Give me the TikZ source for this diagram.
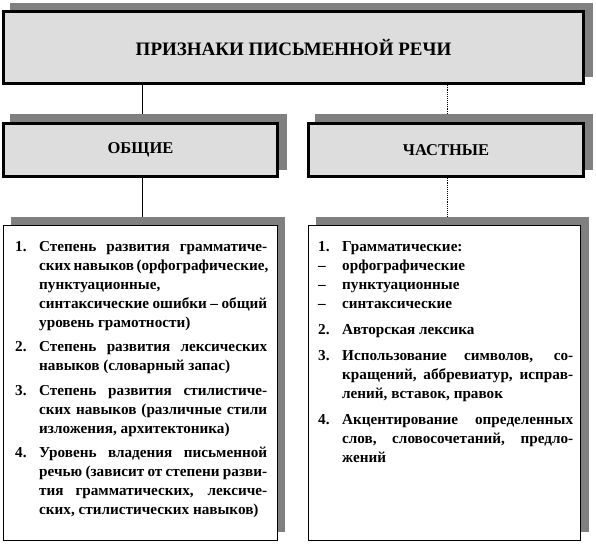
\documentclass[tikz,border=0pt]{standalone}
\usepackage{fontspec}
\setmainfont{Liberation Serif}
\definecolor{shadowgray}{HTML}{808080}
\definecolor{headgray}{HTML}{DDDDDD}
\newcommand{\jline}[5]{\node[txt] (#1) at (#2,#3) {\makebox[#4pt][s]{#5}};}
\newcommand{\pline}[4]{\node[txt] (#1) at (#2,#3) {#4};}
\begin{document}
\begin{tikzpicture}[x=1pt,y=-1pt,
  shadowbox/.style={fill=shadowgray, draw=none},
  headbox/.style={fill=headgray, draw=black, line width=2.5pt, inner sep=0pt,
    font=\fontsize{16.5}{18}\selectfont\bfseries},
  titlebox/.style={headbox, font=\fontsize{19}{21}\selectfont\bfseries},
  listbox/.style={fill=white, draw=black, line width=1pt, inner sep=0pt},
  txt/.style={anchor=base west, inner sep=0pt, font=\fontsize{15.2}{17}\selectfont\bfseries},
  conn/.style={draw=black, line width=1pt},
  dconn/.style={draw=black, line width=0.9pt, densely dotted}]
\path[use as bounding box] (0,0) rectangle (596,543);

% shadows
\path[shadowbox] (10,3) rectangle (593,77);
\path[shadowbox] (10,114) rectangle (287,170);
\path[shadowbox] (315,114) rectangle (593,170);
\path[shadowbox] (11,217) rectangle (285,532);
\path[shadowbox] (316,217) rectangle (589,532);
\coordinate (gshtop) at (142,114);
\coordinate (pshtop) at (447,114);
\coordinate (gcshtop) at (142,217);
\coordinate (pcshtop) at (447,217);

% boxes
\node[titlebox, minimum width=580pt, minimum height=72pt] (title) at (293.5,47.5) {ПРИЗНАКИ ПИСЬМЕННОЙ РЕЧИ};
\node[headbox, minimum width=274pt, minimum height=53pt] (gen) at (140.5,150) {ОБЩИЕ};
\node[headbox, minimum width=275pt, minimum height=53pt] (part) at (446,150) {ЧАСТНЫЕ};
\node[listbox, minimum width=274pt, minimum height=315pt] (genlist) at (140.5,383) {};
\node[listbox, minimum width=272pt, minimum height=315pt] (partlist) at (444.5,383) {};

% connectors
\draw[conn] (title.south -| gshtop) -- (gshtop);
\draw[dconn] (title.south -| pshtop) -- (pshtop);
\draw[conn] (gen.south -| gcshtop) -- (gcshtop);
\draw[dconn] (part.south -| pcshtop) -- (pcshtop);

% left list
\pline{gn1}{15}{251}{1.}
\jline{g1a}{39}{251}{228}{Степень развития граммати­че-}
\jline{g1b}{39}{270}{228}{ских навыков (орфографические,}
\pline{g1c}{39}{289}{пунктуационные,}
\jline{g1d}{39}{308}{228}{синтаксические ошибки – общий}
\pline{g1e}{39}{327}{уровень грамотности)}
\pline{gn2}{15}{351}{2.}
\jline{g2a}{39}{351}{228}{Степень развития лексических}
\pline{g2b}{39}{370}{навыков (словарный запас)}
\pline{gn3}{15}{395}{3.}
\jline{g3a}{39}{395}{228}{Степень развития стилистиче-}
\jline{g3b}{39}{414}{228}{ских навыков (различные стили}
\pline{g3c}{39}{433}{изложения, архитектоника)}
\pline{gn4}{15}{457}{4.}
\jline{g4a}{39}{457}{228}{Уровень владения письменной}
\jline{g4b}{39}{476}{228}{речью (зависит от степени разви-}
\jline{g4c}{39}{495}{228}{тия грамматических, лексиче-}
\pline{g4d}{39}{514}{ских, стилистических навыков)}

% right list
\pline{pn1}{318}{251}{1.}
\pline{p1a}{342}{251}{Грамматические:}
\pline{pd1}{318}{270}{–}
\pline{p1b}{342}{270}{орфографические}
\pline{pd2}{318}{289}{–}
\pline{p1c}{342}{289}{пунктуационные}
\pline{pd3}{318}{308}{–}
\pline{p1d}{342}{308}{синтаксические}
\pline{pn2}{318}{334}{2.}
\pline{p2a}{342}{334}{Авторская лексика}
\pline{pn3}{318}{360}{3.}
\jline{p3a}{342}{360}{231}{Использование символов, со-}
\jline{p3b}{342}{379}{231}{кращений, аббревиатур, исправ-}
\pline{p3c}{342}{398}{лений, вставок, правок}
\pline{pn4}{318}{424}{4.}
\jline{p4a}{342}{424}{231}{Акцентирование определенных}
\jline{p4b}{342}{443}{231}{слов, словосочетаний, предло-}
\pline{p4c}{342}{462}{жений}
\end{tikzpicture}
\end{document}
